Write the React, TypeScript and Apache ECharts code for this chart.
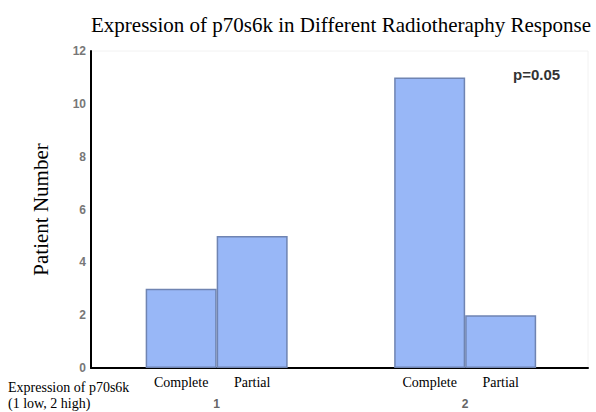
import React, { useEffect, useRef } from "react";
import * as echarts from "echarts";

const titleText = "Expression of p70s6k in Different Radiotheraphy Response";
const yAxisName = "Patient Number";
const groups = ["1", "2"];
const responses = ["Complete", "Partial"];
const values: number[][] = [
  [3, 5],
  [11, 2],
];
const yTicks = [0, 2, 4, 6, 8, 10, 12];
const pValueText = "p=0.05";
const xAxisCaption = ["Expression of p70s6k", "(1 low, 2 high)"];

const GROUP_START = 1.27;
const GROUP_STEP = 3.5;

export default function App() {
  const ref = useRef<HTMLDivElement>(null);
  useEffect(() => {
    if (!ref.current) return;
    const chart = echarts.init(ref.current, null, { renderer: "svg" });
    const barData: any[] = [];
    groups.forEach((g, gi) => {
      responses.forEach((r, ri) => {
        barData.push({
          value: [GROUP_START + gi * GROUP_STEP + ri, values[gi][ri]],
          name: r,
        });
      });
    });
    const groupCenters = groups.map((_, gi) => GROUP_START + gi * GROUP_STEP + 0.5);
    chart.setOption({
      animation: false,
      title: {
        text: titleText,
        left: 86,
        top: 9,
        textStyle: {
          fontFamily: "Liberation Serif",
          fontSize: 21,
          fontWeight: "normal",
          color: "#000",
        },
      },
      grid: { left: 91, right: 8, top: 51, bottom: 44, show: true, borderColor: "#f2f2f2", borderWidth: 1 },
      xAxis: {
        type: "value",
        min: 0,
        max: 7,
        axisLine: { show: true, onZero: false, lineStyle: { color: "#000", width: 2 } },
        axisTick: { show: false },
        splitLine: { show: false },
        axisLabel: {
          customValues: groupCenters,
          formatter: (v: number) => {
            let best = 0;
            groupCenters.forEach((c, i) => {
              if (Math.abs(c - v) < Math.abs(groupCenters[best] - v)) best = i;
            });
            return groups[best];
          },
          margin: 30,
          fontFamily: "Liberation Sans",
          fontWeight: "bold",
          fontSize: 12,
          color: "#666",
        },
      },
      yAxis: {
        type: "value",
        min: 0,
        max: 12,
        interval: 2,
        name: yAxisName,
        nameLocation: "middle",
        nameGap: 40,
        nameTextStyle: {
          fontFamily: "Liberation Serif",
          fontSize: 21,
          color: "#000",
        },
        axisLine: { show: true, lineStyle: { color: "#000", width: 2 } },
        axisTick: { show: false },
        splitLine: { show: false },
        axisLabel: {
          margin: 5,
          fontFamily: "Liberation Sans",
          fontWeight: "bold",
          fontSize: 12,
          color: "#777",
          customValues: yTicks,
        },
      },
      series: [
        {
          type: "bar",
          data: barData,
          barWidth: 71,
          itemStyle: { color: "#98b7f7", borderColor: "#6f84b2", borderWidth: 1.5 },
          label: {
            show: true,
            position: "bottom",
            distance: 7,
            formatter: (p: any) => p.name,
            fontFamily: "Liberation Serif",
            fontSize: 14,
            color: "#000",
          },
        },
      ],
      graphic: [
        {
          type: "text",
          left: 513,
          top: 67,
          style: {
            text: pValueText,
            font: "bold 15px 'Liberation Sans'",
            fill: "#333",
          },
        },
        {
          type: "text",
          left: 8,
          top: 379,
          style: {
            text: xAxisCaption.join("\n"),
            font: "14px 'Liberation Serif'",
            lineHeight: 16,
            fill: "#000",
          },
        },
      ],
    });
    return () => chart.dispose();
  }, []);
  return (
    <div
      ref={ref}
      style={{ position: "fixed", left: 0, top: 0, width: 596, height: 412, background: "#fff" }}
    />
  );
}
